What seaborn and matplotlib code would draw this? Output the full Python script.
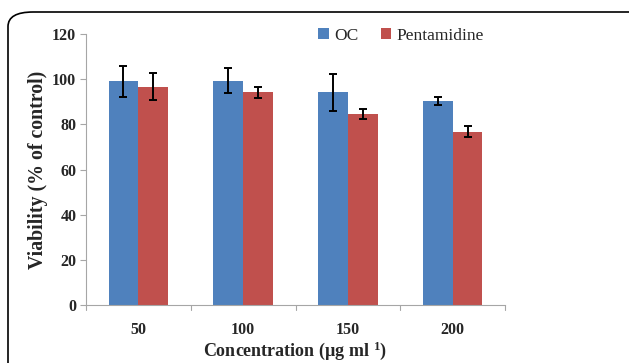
import matplotlib
matplotlib.use("Agg")
import matplotlib.pyplot as plt
from matplotlib.patches import FancyBboxPatch
import seaborn as sns
import pandas as pd
import numpy as np

concentrations = ["50", "100", "150", "200"]
series_names = ["OC", "Pentamidine"]
oc_values = [99.0, 99.4, 94.1, 90.3]
oc_errors = [6.8, 5.5, 8.4, 1.6]
pent_values = [96.7, 94.1, 84.4, 76.7]
pent_errors = [6.0, 2.3, 2.2, 2.5]
y_ticks = [0, 20, 40, 60, 80, 100, 120]
colors = ["#4F81BD", "#C0504D"]

df = pd.DataFrame({
    "Concentration": concentrations * 2,
    "Viability": oc_values + pent_values,
    "Error": oc_errors + pent_errors,
    "Series": [series_names[0]] * 4 + [series_names[1]] * 4,
})

sns.set_theme(style="white")
plt.rcParams["font.family"] = ["Liberation Serif", "DejaVu Serif"]
plt.rcParams["mathtext.fontset"] = "custom"
plt.rcParams["mathtext.rm"] = "Liberation Serif:bold"
plt.rcParams["mathtext.it"] = "Liberation Serif:bold"
plt.rcParams["mathtext.bf"] = "Liberation Serif:bold"

fig = plt.figure(figsize=(6.29, 3.63), dpi=100)
ax = fig.add_axes([86 / 629, 1 - 305 / 363, 419 / 629, 271 / 363])

sns.barplot(data=df, x="Concentration", y="Viability", hue="Series",
            palette=colors, saturation=1, width=0.57, errorbar=None,
            order=concentrations, hue_order=series_names, ax=ax, linewidth=0)

# error bars placed on the bars drawn by seaborn
for container, errs in zip(ax.containers, [oc_errors, pent_errors]):
    xs = [p.get_x() + p.get_width() / 2 for p in container.patches]
    hs = [p.get_height() for p in container.patches]
    ax.errorbar(xs, hs, yerr=errs, fmt="none", ecolor="black",
                elinewidth=1.4, capsize=2.8, capthick=1.4, zorder=5)

ax.set_ylim(0, 120)
ax.set_xlim(-0.5, 3.5)
ax.set_yticks(y_ticks)
ax.set_yticklabels([str(t) for t in y_ticks], fontsize=11.5, fontweight="bold")
ax.set_xticks(range(4))
ax.set_xticklabels(concentrations, fontsize=11.5, fontweight="bold")
ax.tick_params(axis="x", length=0, pad=12)
ax.tick_params(axis="y", length=4, color="#a6a6a6", width=0.8, pad=3, left=True)
for b in [-0.5, 0.5, 1.5, 2.5, 3.5]:
    ax.plot([b, b], [0, -2.2], color="#a6a6a6", lw=0.8, clip_on=False)

for s in ["top", "right"]:
    ax.spines[s].set_visible(False)
for s in ["left", "bottom"]:
    ax.spines[s].set_color("#a6a6a6")
    ax.spines[s].set_linewidth(0.8)

ax.set_ylabel("Viability (% of control)", fontsize=14.3, fontweight="bold", labelpad=3)
ax.set_xlabel("Concentration (µg ml $^{1}$)", fontsize=13, fontweight="bold", labelpad=1)

leg = ax.legend(loc="center", bbox_to_anchor=(0.752, 0.993), ncol=2, frameon=False,
                fontsize=12.5, handlelength=0.6, handleheight=0.6,
                handletextpad=0.3, columnspacing=1.3, borderaxespad=0)

frame = FancyBboxPatch((8 / 629, 1 - 700 / 363), 1.2, 700 / 363 - 12 / 363,
                       boxstyle="round,pad=0,rounding_size=0.04",
                       transform=fig.transFigure, fill=False,
                       edgecolor="black", linewidth=1.2, clip_on=False)
fig.patches.append(frame)

fig.savefig("out.png", dpi=100)
